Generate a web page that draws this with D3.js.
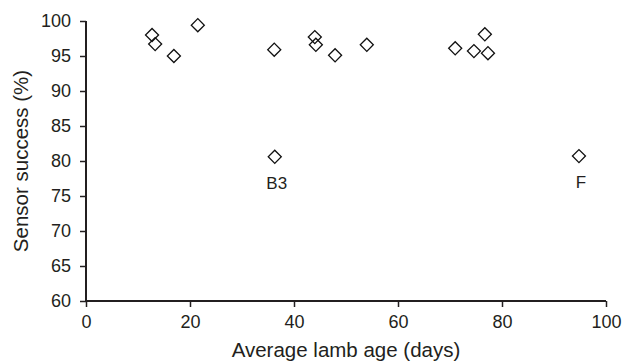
<!DOCTYPE html>
<html>
<head>
<meta charset="utf-8">
<script src="https://cdn.jsdelivr.net/npm/d3@7"></script>
<style>
  body { margin: 0; background: #fff; }
  svg text { font-family: "Liberation Sans", Arial, sans-serif; fill: #231f20; }
</style>
</head>
<body>
<svg width="624" height="361"></svg>
<script>
// lamb age (days) vs sensor success (%)
const ages = [12.7, 13.3, 16.9, 21.5, 36.2, 36.3, 44.0, 44.2, 47.9, 54.0, 71.0, 74.6, 76.7, 77.3, 94.8];
const success = [98.0, 96.7, 95.0, 99.4, 95.9, 80.6, 97.7, 96.6, 95.1, 96.6, 96.1, 95.7, 98.1, 95.4, 80.7];
const pointLabels = ['', '', '', '', '', 'B3', '', '', '', '', '', '', '', '', 'F'];
const xTicks = [0, 20, 40, 60, 80, 100];
const yTicks = [60, 65, 70, 75, 80, 85, 90, 95, 100];

const svg = d3.select('svg');
const margin = { left: 86, right: 18, top: 21, bottom: 60 };
const width = 624, height = 361;

const x = d3.scaleLinear().domain([0, 100]).range([margin.left, width - margin.right]);
const y = d3.scaleLinear().domain([60, 100]).range([height - margin.bottom, margin.top]);

const xAxis = svg.append('g')
  .attr('transform', `translate(0,${y(60)})`)
  .call(d3.axisBottom(x).tickValues(xTicks).tickSize(6).tickPadding(8));
const yAxis = svg.append('g')
  .attr('transform', `translate(${x(0)},0)`)
  .call(d3.axisLeft(y).tickValues(yTicks).tickSize(6).tickPadding(9));

[xAxis, yAxis].forEach((g) => {
  g.select('.domain').attr('stroke', '#231f20').attr('stroke-width', 2);
  g.selectAll('.tick line').attr('stroke', '#231f20').attr('stroke-width', 1.5);
  g.selectAll('.tick text').style('font-size', '18px').attr('fill', '#231f20')
    .style('font-family', '"Liberation Sans", Arial, sans-serif');
});
// keep the corner clean
xAxis.select('.domain').attr('d', `M${x(0)},0H${x(100)}`);
xAxis.selectAll('.tick line').attr('y1', 0);
yAxis.select('.domain').attr('d', `M0,${y(60)}V${y(100)}`);

const pts = ages.map((a, i) => ({ a, s: success[i], label: pointLabels[i] }));

const diamond = d3.symbol().type(d3.symbolSquare).size(85);
svg.append('g').selectAll('path')
  .data(pts)
  .join('path')
  .attr('d', diamond)
  .attr('transform', d => `translate(${x(d.a)},${y(d.s)}) rotate(45)`)
  .attr('fill', 'none')
  .attr('stroke', '#111')
  .attr('stroke-width', 1.3);

svg.append('g').selectAll('text')
  .data(pts.filter(d => d.label))
  .join('text')
  .attr('x', d => x(d.a) + 2)
  .attr('y', d => y(d.s) + 32)
  .attr('text-anchor', 'middle')
  .style('font-size', '17px')
  .text(d => d.label);

svg.append('text')
  .attr('x', (x(0) + x(100)) / 2)
  .attr('y', 357)
  .attr('text-anchor', 'middle')
  .style('font-size', '20.5px')
  .text('Average lamb age (days)');

svg.append('text')
  .attr('transform', `translate(28,${(y(60) + y(100)) / 2}) rotate(-90)`)
  .attr('text-anchor', 'middle')
  .style('font-size', '20.5px')
  .text('Sensor success (%)');
</script>
</body>
</html>
